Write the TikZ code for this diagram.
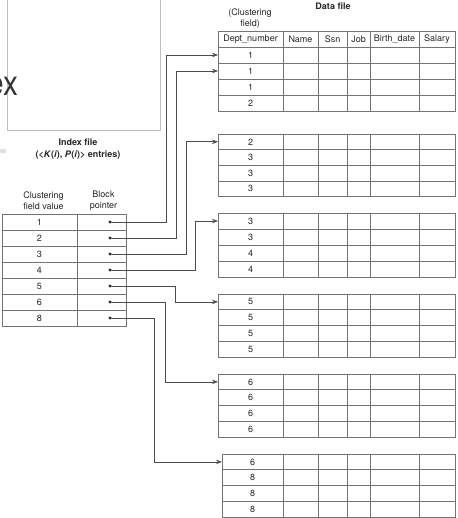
\documentclass[tikz,border=0pt]{standalone}
\usepackage{fontspec}
\setmainfont{TeX Gyre Heros}
\usetikzlibrary{arrows.meta}
\begin{document}
\begin{tikzpicture}[x=1pt,y=-1pt,
  grid/.style={draw=black!55,line width=0.7pt},
  cell/.style={inner sep=0pt,font=\fontsize{9}{10}\selectfont,text=black!85},
  lbl/.style={inner sep=0pt,font=\fontsize{9}{11}\selectfont,text=black!85,align=center},
  ttl/.style={inner sep=0pt,font=\bfseries\fontsize{9}{12}\selectfont,text=black!85,align=center},
  dot/.style={circle,fill=black!85,inner sep=0pt,minimum size=3.3pt},
  link/.style={draw=black!70,line width=0.7pt,-{Stealth[length=6pt,width=4.5pt]}}]
\useasboundingbox (0,0) rectangle (457,518);
% stray frame and text at top left
\draw[black!25,line width=0.7pt] (7.5,-5) rectangle (160.5,130);
\node[anchor=base east,inner sep=0pt,font=\fontsize{35}{35}\selectfont,text=black!80] (ex) at (18.5,96) {\scalebox{0.85}[1]{ex}};
\fill[black!12] (0,149) rectangle (5.5,153);
% titles
\node[ttl] (dtitle) at (333,6) {Data file};
\node[lbl] (cfield) at (250,18.5) {(Clustering\\field)};
\node[ttl] (ititle) at (78,149.5) {Index file\\(<\textit{K}(\textit{i}), \textit{P}(\textit{i})> entries)};
\node[lbl] (ih1) at (43.5,200.5) {Clustering\\field value};
\node[lbl] (ih2) at (103.5,200.5) {Block\\pointer};
% data file header
\draw[grid] (218,31) rectangle (455,47);
\foreach \x in {283,318,347,370,419} \draw[grid] (\x,31) -- (\x,47);
\foreach \n/\xa/\xb [count=\j] in {Dept\_number/218/283,Name/283/318,Ssn/318/347,Job/347/370,Birth\_date/370/419,Salary/419/455}
  \node[cell] (h\j) at ({(\xa+\xb)/2},39) {\n};
% data blocks
\foreach \b/\t/\bt/\l/\vals in {1/47/111/218/{1,1,1,2},2/134/196.5/218/{2,3,3,3},3/213/277/218/{3,3,4,4},4/294/357/218/{5,5,5,5},5/374/437/218/{6,6,6,6},6/454/517/222/{6,8,8,8}}{
  \pgfmathsetmacro\rh{(\bt-\t)/4}
  \draw[grid] (\l,\t) rectangle (455,\bt);
  \foreach \k in {1,2,3} \draw[grid] (\l,{\t+\k*\rh}) -- (455,{\t+\k*\rh});
  \foreach \x in {283,318,347,370,419} \draw[grid] (\x,\t) -- (\x,\bt);
  \foreach \v [count=\i] in \vals {
    \node[cell] (d\b-\i) at ({(\l+283)/2},{\t+(\i-0.5)*\rh}) {\v};
    \coordinate (r\b-\i) at (\l,{\t+(\i-0.5)*\rh});
  }
}
% index file
\draw[grid] (2,214) rectangle (126,326);
\draw[grid] (77,214) -- (77,326);
\foreach \k in {1,...,6} \draw[grid] (2,{214+16*\k}) -- (126,{214+16*\k});
\foreach \v [count=\i] in {1,2,3,4,5,6,8} {
  \node[cell] (k\i) at (39.5,{206+16*\i}) {\v};
  \node[dot] (p\i) at (110,{206+16*\i}) {};
}
% pointers
\draw[link] (p1.center) -- ++(56,0) |- (r1-1);
\draw[link] (p2.center) -- ++(66,0) |- (r1-2);
\draw[link] (p3.center) -- ++(76,0) |- (r2-1);
\draw[link] (p4.center) -- ++(85,0) |- (r3-1);
\draw[link] (p5.center) -- ++(65,0) |- (r4-1);
\draw[link] (p6.center) -- ++(55,0) |- (r5-1);
\draw[link] (p7.center) -- ++(44,0) |- (r6-1);
\end{tikzpicture}
\end{document}
